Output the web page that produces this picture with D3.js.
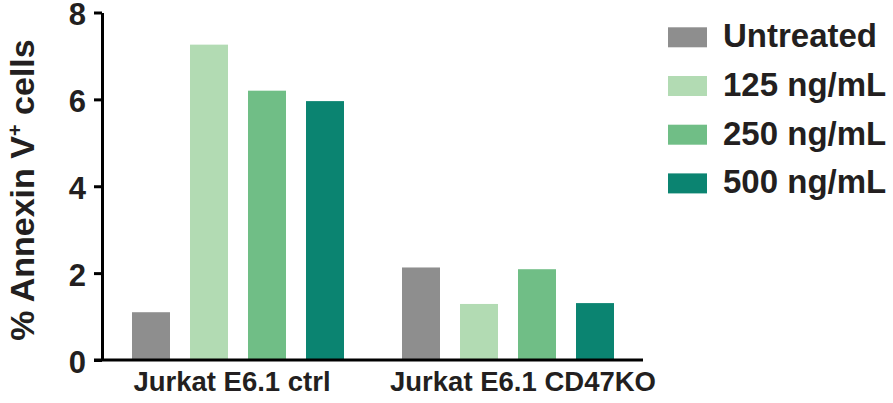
<!DOCTYPE html>
<html><head><meta charset="utf-8">
<script src="https://cdn.jsdelivr.net/npm/d3@7"></script>
<style>
body{margin:0;background:#fff;}
svg{display:block;}
text{font-family:"Liberation Sans",Arial,sans-serif;font-weight:bold;fill:#231f20;}
</style></head>
<body>
<svg id="c" width="893" height="403"></svg>
<script>
const groups = ["Jurkat E6.1 ctrl", "Jurkat E6.1 CD47KO"];
const series = ["Untreated", "125 ng/mL", "250 ng/mL", "500 ng/mL"];
const untreated = [1.10, 2.13];
const ng125 = [7.26, 1.29];
const ng250 = [6.20, 2.09];
const ng500 = [5.96, 1.31];
const yTicks = [0, 2, 4, 6, 8];
const colors = ["#8e8e8e", "#b2dbb3", "#70be86", "#0b8471"];

const values = [untreated, ng125, ng250, ng500];
const data = groups.map((g, gi) => ({group: g, vals: series.map((s, si) => ({series: s, value: values[si][gi]}))}));

const svg = d3.select("#c");
const axX0 = 102, axX1 = 643;
const y = d3.scaleLinear().domain([0, 8]).range([360, 12.5]);
const x0 = d3.scaleBand().domain(groups).range([axX0, axX1 - 1]);
const x1 = d3.scaleBand().domain(series).range([30, 242]).paddingInner(0.345).paddingOuter(0);
const color = d3.scaleOrdinal().domain(series).range(colors);

// bars
svg.append("g").selectAll("g").data(data).join("g")
  .attr("transform", d => `translate(${x0(d.group)},0)`)
  .selectAll("rect").data(d => d.vals).join("rect")
  .attr("x", d => x1(d.series))
  .attr("width", x1.bandwidth())
  .attr("y", d => y(d.value))
  .attr("height", d => y(0) - y(d.value))
  .attr("fill", d => color(d.series));

// y axis
const ya = svg.append("g").attr("transform", `translate(${axX0},0)`)
  .call(d3.axisLeft(y).tickValues(yTicks).tickFormat(d3.format("d")).tickSize(8).tickSizeOuter(0).tickPadding(8));
ya.select(".domain").attr("stroke", "#000").attr("stroke-width", 3);
ya.selectAll(".tick line").attr("stroke", "#000").attr("stroke-width", 3);
ya.selectAll(".tick text").style("font-size", "31px").attr("fill", "#231f20").attr("dy", "0.4em");

// x axis
const xa = svg.append("g").attr("transform", `translate(0,${y(0)})`)
  .call(d3.axisBottom(x0).tickSize(0).tickSizeOuter(0).tickPadding(10));
xa.select(".domain").attr("stroke", "#000").attr("stroke-width", 3)
  .attr("d", `M${axX0 - 8},0H${axX1}`);
xa.selectAll(".tick text").style("font-size", "27.5px").attr("fill", "#231f20")
  .attr("dx", (d, i) => i === 0 ? -5 : 16).attr("dy", "0.75em");

// y title
const yt = svg.append("text")
  .attr("transform", `translate(34,${190}) rotate(-90)`)
  .attr("text-anchor", "middle")
  .style("font-size", "34px");
yt.append("tspan").text("% Annexin V");
yt.append("tspan").text("+").style("font-size", "20px").attr("dy", "-12");
yt.append("tspan").text(" cells").attr("dy", "12");

// legend
const lg = svg.append("g").selectAll("g").data(series).join("g")
  .attr("transform", (d, i) => `translate(668,${37.3 + i * 48.7})`);
lg.append("rect").attr("x", 0).attr("y", -10).attr("width", 39).attr("height", 20)
  .attr("fill", d => color(d));
lg.append("text").attr("x", 55).attr("y", 10).style("font-size", "33px").text(d => d);
</script>
</body></html>
